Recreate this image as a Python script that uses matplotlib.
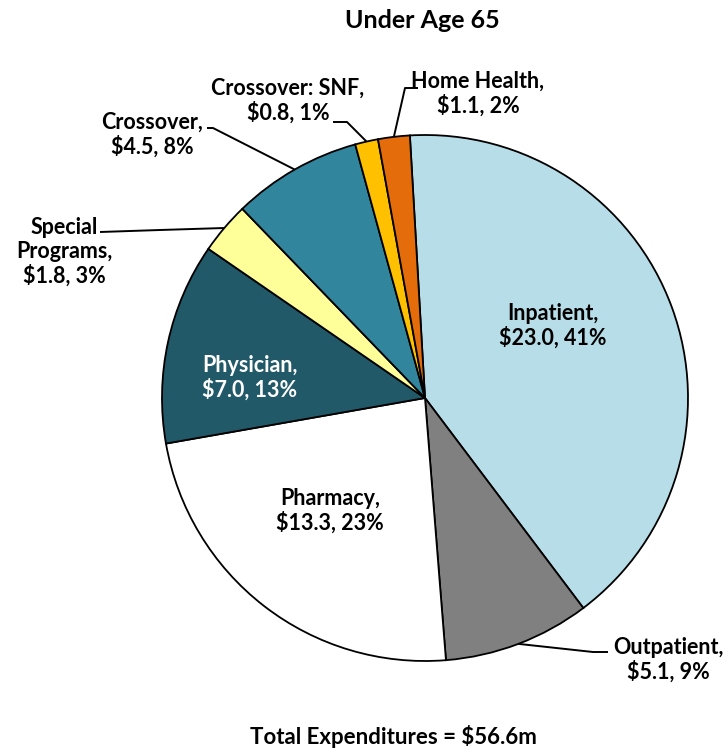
import numpy as np
import matplotlib.pyplot as plt

plt.rcParams['font.family'] = ['Lato', 'DejaVu Sans']
plt.rcParams['font.weight'] = 'bold'

# data
categories = ['Inpatient', 'Outpatient', 'Pharmacy', 'Physician', 'Special\nPrograms',
              'Crossover', 'Crossover: SNF', 'Home Health']
values = [23.0, 5.1, 13.3, 7.0, 1.8, 4.5, 0.8, 1.1]
percents = ['41%', '9%', '23%', '13%', '3%', '8%', '1%', '2%']
colors = ['#B7DEE8', '#808080', '#FFFFFF', '#215968', '#FFFF99', '#31859C', '#FFC000', '#E46C0A']

# pixel -> data helpers (center of pie at px 425,398, radius 263 px)
R = 263.0
CX, CY = 425.0, 398.0
def p(x, y):
    return ((x - CX) / R, (CY - y) / R)

fig = plt.figure(figsize=(7.28, 7.48), dpi=100)
ax = fig.add_axes([0, 0, 1, 1])
wedges, _ = ax.pie(values, colors=colors, startangle=93.3, counterclock=False, radius=1,
                   wedgeprops={'edgecolor': 'black', 'linewidth': 1.3})
ax.set_xlim(-CX / R, (728 - CX) / R)
ax.set_ylim(-(748 - CY) / R, CY / R)
ax.set_aspect('equal')
ax.axis('off')

# label layout: center position (px), text color, leader (elbow px, end px) or None
layout = [
    ((553, 326), 'black', None),
    ((668, 660), 'black', ((593, 652), (608, 652))),
    ((330, 511), 'black', None),
    ((250, 378), 'white', None),
    ((64, 252), 'black', ((160, 230), (100, 232))),
    ((152, 135), 'black', ((213, 128), (207, 128))),
    ((288, 101), 'black', ((347, 122), (333, 122))),
    ((478, 94), 'black', ((405, 88), (418, 88))),
]

for w, cat, v, pct, (pos, tc, leader) in zip(wedges, categories, values, percents, layout):
    txt = f'{cat},\n${v:.1f}, {pct}'
    ax.text(*p(*pos), txt, ha='center', va='center', fontsize=15.5, fontweight='bold',
            color=tc, linespacing=1.15)
    if leader is not None:
        mid = np.deg2rad((w.theta1 + w.theta2) / 2)
        x0, y0 = np.cos(mid), np.sin(mid)
        e1 = p(*leader[0])
        e2 = p(*leader[1])
        ax.plot([x0, e1[0], e2[0]], [y0, e1[1], e2[1]], color='black', lw=1.4,
                solid_capstyle='butt')

fig.text(422 / 728, 1 - 21 / 748, 'Under Age 65', ha='center', va='center',
         fontsize=18, fontweight='bold')
fig.text(393 / 728, 1 - 736 / 748, 'Total Expenditures = $56.6m', ha='center', va='center',
         fontsize=16, fontweight='bold')

fig.savefig('out.png', dpi=100)
